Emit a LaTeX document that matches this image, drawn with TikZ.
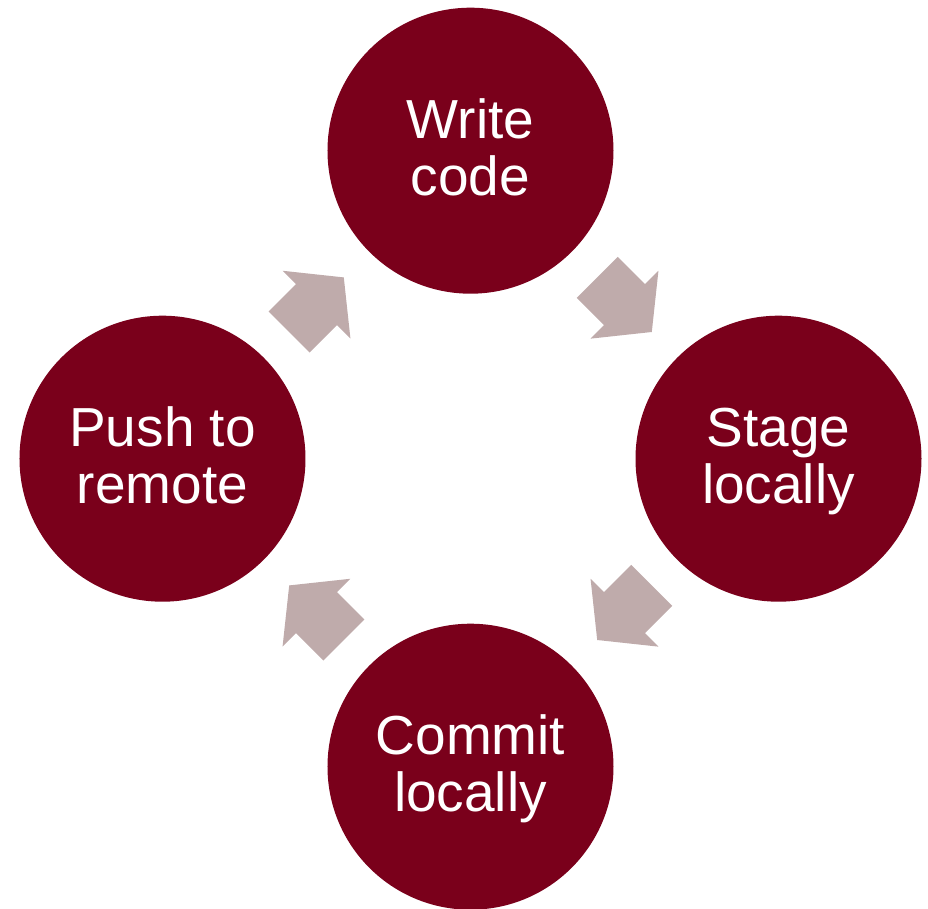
\documentclass[tikz,border=0pt]{standalone}
\usepackage{fontspec}
\setmainfont{Liberation Sans}
\usetikzlibrary{calc}
\definecolor{stepred}{HTML}{7A001B}
\definecolor{flowgrey}{HTML}{BFABAB}
% struts that fix the height of the first line and the depth of the last one,
% so every two-line label sits at the same place in its circle
\newcommand{\topstrut}{\rule{0pt}{36pt}}
\newcommand{\botstrut}{\rule[-11.25pt]{0pt}{11.25pt}}
\tikzset{
  stepcircle/.style={circle, fill=stepred, draw=none, minimum size=214.5pt, inner sep=0pt,
    text=white, align=center, font=\fontsize{41.25pt}{42.75pt}\selectfont},
  flowarrow/.pic={
    \fill[flowgrey] (-38.6,29) -- (0,29) -- (0,48) -- (38.6,0) -- (0,-48)
      -- (0,-29) -- (-38.6,-29) -- cycle;
  }
}
\begin{document}
\begin{tikzpicture}[x=0.75pt,y=0.75pt]
  \useasboundingbox (-470.5,-449.3) rectangle (457.5,458.7);
  % the four steps of the cycle
  \node[stepcircle] (write)  at (0,308)  {\topstrut Write\\code\botstrut};
  \node[stepcircle] (stage)  at (308,0)  {\topstrut Stage\\locally\botstrut};
  \node[stepcircle] (commit) at (0,-308) {\topstrut Commit\\locally\botstrut};
  \node[stepcircle] (push)   at (-308,0) {\topstrut Push to\\remote\botstrut};
  % block arrows half-way between consecutive steps
  \pic[rotate=-45]  at ($(write)!0.5!(stage)$)  {flowarrow};
  \pic[rotate=-135] at ($(stage)!0.5!(commit)$) {flowarrow};
  \pic[rotate=135]  at ($(commit)!0.5!(push)$)  {flowarrow};
  \pic[rotate=45]   at ($(push)!0.5!(write)$)   {flowarrow};
\end{tikzpicture}
\end{document}
